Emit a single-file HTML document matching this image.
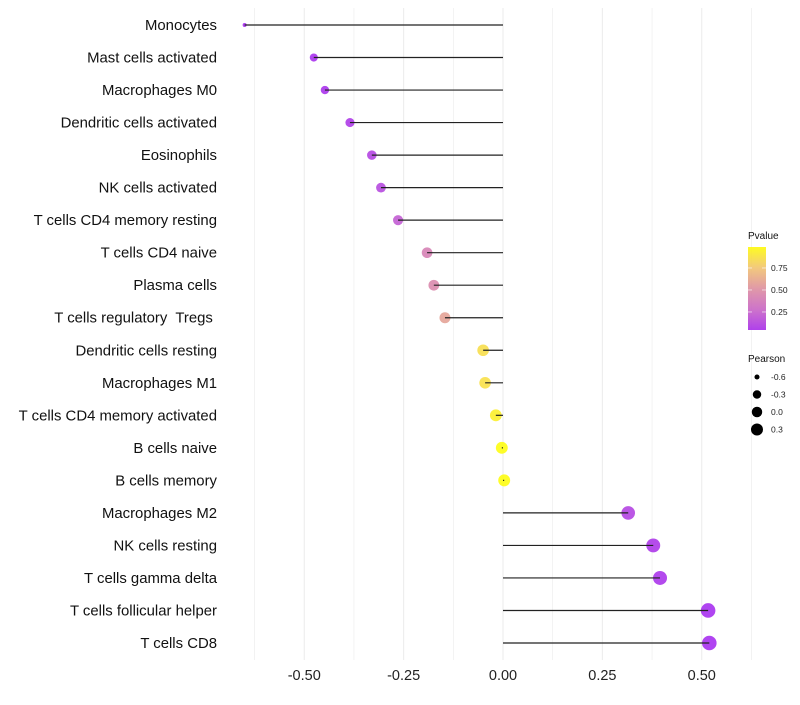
<!DOCTYPE html>
<html><head><meta charset="utf-8"><style>
body{margin:0;background:#fff;font-family:"Liberation Sans",sans-serif;}
svg text{font-family:"Liberation Sans",sans-serif;white-space:pre;}
</style></head><body>
<svg id="c" width="800" height="700"></svg>
<script>
const categories=["Monocytes","Mast cells activated","Macrophages M0","Dendritic cells activated","Eosinophils","NK cells activated","T cells CD4 memory resting","T cells CD4 naive","Plasma cells","T cells regulatory  Tregs ","Dendritic cells resting","Macrophages M1","T cells CD4 memory activated","B cells naive","B cells memory","Macrophages M2","NK cells resting","T cells gamma delta","T cells follicular helper","T cells CD8"];
const pearson=[-0.65,-0.476,-0.448,-0.385,-0.33,-0.307,-0.264,-0.191,-0.174,-0.146,-0.05,-0.045,-0.018,-0.003,0.003,0.315,0.378,0.395,0.516,0.519];
const pvalue=[0.005,0.02,0.03,0.06,0.1,0.12,0.2,0.4,0.45,0.58,0.85,0.86,0.93,0.99,0.99,0.1,0.05,0.04,0.015,0.01];
const xTicks=[-0.5,-0.25,0,0.25,0.5];
const xTickLabels=["-0.50","-0.25","0.00","0.25","0.50"];
const legendP=[0.25,0.5,0.75];
const legendPLabels=["0.25","0.50","0.75"];
const legendR=[-0.6,-0.3,0,0.3];
const legendRLabels=["-0.6","-0.3","0.0","0.3"];

const NS="http://www.w3.org/2000/svg";
const svg=document.getElementById('c');
function mk(t,a,p){const e=document.createElementNS(NS,t);for(const k in a)e.setAttribute(k,a[k]);(p||svg).appendChild(e);return e;}
const x=v=>503+v*397.5;
const y=i=>25+i*(618/19);
const rad=v=>2+Math.sqrt(Math.max(0,(v+0.65)/1.17))*5.3;
const lrad=v=>1.5+Math.sqrt(Math.max(0,(v+0.65)/1.17))*5;
const stops=[[0,[160,32,240]],[0.25,[198,96,200]],[0.5,[220,140,160]],[0.75,[242,196,110]],[1,[255,255,0]]];
function col(p){p=Math.max(0,Math.min(1,p));for(let k=0;k<stops.length-1;k++){const [p0,a]=stops[k],[p1,b]=stops[k+1];if(p<=p1){const t=(p-p0)/(p1-p0);return `rgb(${a.map((c,i)=>Math.round(c+(b[i]-c)*t)).join(',')})`;}}return 'rgb(255,255,0)';}

for(let v=-0.625;v<=0.63;v+=0.125){
  const g=mk('line',{x1:x(v),x2:x(v),y1:8,y2:660,stroke:'#ebebeb','stroke-width':Math.abs((v*4)%1)<1e-6?1:0.6});
  
  
}
xTicks.forEach((v,i)=>{
  const t=mk('text',{x:x(v),y:680,'text-anchor':'middle','font-size':14.5,fill:'#222'});
  t.textContent=xTickLabels[i];
  
  
});
categories.forEach((c,i)=>{
  const t=mk('text',{x:217,y:y(i)+5,'text-anchor':'end','font-size':14.9,fill:'#111'});
  t.textContent=c;
  
  
  const d=mk('circle',{cx:x(pearson[i]),cy:y(i),r:rad(pearson[i]),fill:col(pvalue[i]),'fill-opacity':0.85});
  
  
  const l=mk('line',{x1:x(0),x2:x(pearson[i]),y1:y(i),y2:y(i),stroke:'#222','stroke-width':1.2});
  
  
});
let t=mk('text',{x:748,y:239,'font-size':10,fill:'#111'});t.textContent='Pvalue';


const defs=mk('defs',{});const lg=mk('linearGradient',{id:'g',x1:0,y1:1,x2:0,y2:0},defs);
stops.forEach(s=>mk('stop',{offset:s[0],'stop-color':col(0.045+s[0]*0.932)},lg));
const bar=mk('rect',{x:748,y:247,width:18,height:83,fill:'url(#g)','fill-opacity':0.9});


const py=p=>330-(p-0.045)*88;
legendP.forEach((p,i)=>{
  mk('line',{x1:748,x2:752,y1:py(p),y2:py(p),stroke:'#fff','stroke-opacity':0.6});
  mk('line',{x1:762,x2:766,y1:py(p),y2:py(p),stroke:'#fff','stroke-opacity':0.6});
  const tt=mk('text',{x:771,y:py(p)+3,'font-size':8.5,fill:'#222'});tt.textContent=legendPLabels[i];
  
  
});
t=mk('text',{x:748,y:362,'font-size':10,fill:'#111'});t.textContent='Pearson';


legendR.forEach((r,i)=>{
  const cy=377+i*17.5;
  const c=mk('circle',{cx:757,cy:cy,r:lrad(r),fill:'#000'});
  
  
  const tt=mk('text',{x:771,y:cy+3,'font-size':8.5,fill:'#222'});tt.textContent=legendRLabels[i];
  
  
});
</script>
</body></html>
